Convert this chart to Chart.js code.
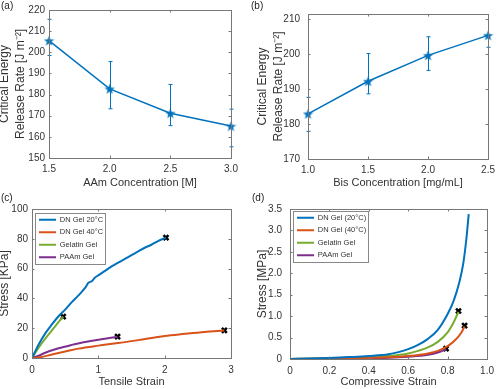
<!DOCTYPE html>
<html>
<head>
<meta charset="utf-8">
<script src="https://cdn.jsdelivr.net/npm/chart.js@4.4.1/dist/chart.umd.min.js"></script>
<style>
  body { margin: 0; background: #fff; font-family: 'Liberation Sans', Arial, sans-serif; }
  #page { position: relative; width: 500px; height: 389px; overflow: hidden; }
  .box { position: absolute; }
  .tag { position: absolute; font-size: 10px; color: #222; }
</style>
</head>
<body>
<div id="page">
  <div class="box" style="left:0;top:0;width:250px;height:195px"><canvas id="chartA"></canvas></div>
  <div class="box" style="left:250px;top:0;width:250px;height:195px"><canvas id="chartB"></canvas></div>
  <div class="box" style="left:0;top:195px;width:250px;height:194px"><canvas id="chartC"></canvas></div>
  <div class="box" style="left:250px;top:195px;width:250px;height:194px"><canvas id="chartD"></canvas></div>
  <div class="tag" style="left:1px;top:0px">(a)</div>
  <div class="tag" style="left:251px;top:0px">(b)</div>
  <div class="tag" style="left:1px;top:192px">(c)</div>
  <div class="tag" style="left:252px;top:192px">(d)</div>
</div>
<script>
// (a) energy release rate vs AAm concentration
const aamConc = [1.5, 2, 2.5, 3];
const aamRate = [205.5, 182.7, 171.2, 165.1];
const aamLow  = [198.5, 173.3, 165.3, 155.3];
const aamHigh = [215.6, 195.6, 184.8, 173.1];

// (b) energy release rate vs Bis concentration
const bisConc = [1, 1.5, 2, 2.5];
const bisRate = [182.9, 192.2, 199.6, 205.3];
const bisLow  = [177.9, 188.6, 195.3, 201.9];
const bisHigh = [187.6, 200.1, 204.9, 212.5];

// (c) tensile stress-strain [KPa]
const tenDN20X  = [0, 0.05, 0.1, 0.2, 0.3, 0.4, 0.5, 0.6, 0.7, 0.8, 0.85, 0.9, 0.95, 1.0, 1.1, 1.2, 1.3, 1.4, 1.5, 1.6, 1.7, 1.8, 1.9, 2.02];
const tenDN20Y  = [0, 4.5, 9, 16.5, 22.5, 28, 32.5, 37.5, 42, 47, 50.5, 51.5, 54, 55.5, 58.5, 61.5, 64, 66.5, 69, 71.5, 74, 76, 78.5, 80.8];
const tenDN40X  = [0, 0.1, 0.3, 0.5, 0.7, 1.0, 1.3, 1.6, 2.0, 2.3, 2.6, 2.9];
const tenDN40Y  = [0, 0.3, 2.3, 4.3, 6.3, 8.3, 10, 12, 14.8, 16.2, 17.5, 18.5];
const tenGelX   = [0, 0.1, 0.2, 0.3, 0.4, 0.47];
const tenGelY   = [0, 7, 13, 18.5, 24, 27.8];
const tenPAAmX  = [0, 0.1, 0.2, 0.4, 0.6, 0.8, 1.0, 1.29];
const tenPAAmY  = [0, 1.5, 3.5, 6.5, 8.8, 10.8, 12.3, 14.3];
const tenBreakX = [2.02, 2.9, 0.47, 1.29];
const tenBreakY = [80.8, 18.5, 27.8, 14.3];

// (d) compressive stress-strain [MPa]
const comDN20X  = [0, 0.1, 0.2, 0.3, 0.4, 0.5, 0.55, 0.6, 0.65, 0.7, 0.75, 0.8, 0.83, 0.86, 0.88, 0.895, 0.907];
const comDN20Y  = [0, 0.01, 0.025, 0.045, 0.07, 0.11, 0.16, 0.23, 0.33, 0.47, 0.68, 1.05, 1.35, 1.8, 2.25, 2.8, 3.38];
const comDN40X  = [0, 0.3, 0.5, 0.6, 0.7, 0.75, 0.8, 0.84, 0.87, 0.886];
const comDN40Y  = [0, 0.015, 0.04, 0.07, 0.13, 0.19, 0.3, 0.45, 0.62, 0.76];
const comGelX   = [0, 0.2, 0.4, 0.5, 0.6, 0.65, 0.7, 0.75, 0.8, 0.83, 0.855];
const comGelY   = [0, 0.015, 0.04, 0.07, 0.13, 0.19, 0.27, 0.4, 0.62, 0.85, 1.1];
const comPAAmX  = [0, 0.3, 0.5, 0.6, 0.7, 0.75, 0.792];
const comPAAmY  = [0, 0.01, 0.03, 0.055, 0.1, 0.15, 0.23];
const comBreakX = [0.855, 0.886, 0.792];
const comBreakY = [1.12, 0.78, 0.24];

const BLUE = '#0072BD', ORANGE = '#D95319', GREEN = '#77AC30', PURPLE = '#7E2F8E';
const TXT = '#333';
const FONT = "'Liberation Sans', Arial, sans-serif";

function pts(xs, ys) { return xs.map((x, i) => ({x: x, y: ys[i]})); }

function makeStar(size, color) {
    const c = document.createElement('canvas');
    c.width = c.height = size;
    const g = c.getContext('2d');
    g.fillStyle = color;
    g.beginPath();
    for (let i = 0; i < 10; i++) {
        const r = i % 2 ? size * 0.2 : size / 2;
        const a = -Math.PI / 2 + i * Math.PI / 5;
        g.lineTo(size / 2 + r * Math.cos(a), size / 2 + r * Math.sin(a) + 0.6);
    }
    g.closePath();
    g.fill();
    return c;
}

// matlab style box with inward ticks
const boxPlugin = {
    id: 'matBox',
    afterDatasetsDraw(chart) {
        const {ctx, chartArea: a, scales} = chart;
        ctx.save();
        ctx.strokeStyle = '#777';
        ctx.lineWidth = 1;
        ctx.strokeRect(Math.round(a.left) + 0.5, Math.round(a.top) + 0.5, Math.round(a.right - a.left), Math.round(a.bottom - a.top));
        ctx.beginPath();
        scales.x.ticks.forEach((t, i) => {
            const px = Math.round(scales.x.getPixelForTick(i)) + 0.5;
            ctx.moveTo(px, a.bottom); ctx.lineTo(px, a.bottom - 2.5);
            ctx.moveTo(px, a.top); ctx.lineTo(px, a.top + 2.5);
        });
        scales.y.ticks.forEach((t, i) => {
            const py = Math.round(scales.y.getPixelForTick(i)) + 0.5;
            ctx.moveTo(a.left, py); ctx.lineTo(a.left + 2.5, py);
            ctx.moveTo(a.right, py); ctx.lineTo(a.right - 2.5, py);
        });
        ctx.stroke();
        // legend frame
        const lg = chart.legend;
        if (lg && lg.options.display && lg.legendHitBoxes.length) {
            const hb = lg.legendHitBoxes;
            const x0 = Math.min(...hb.map(h => h.left)) - 4;
            const y0 = Math.min(...hb.map(h => h.top)) - 3;
            const x1 = Math.max(...hb.map(h => h.left + h.width)) + 2;
            const y1 = Math.max(...hb.map(h => h.top + h.height)) + 3;
            ctx.strokeStyle = '#888';
            ctx.strokeRect(Math.round(x0) + 0.5, Math.round(y0) + 0.5, Math.round(x1 - x0), Math.round(y1 - y0));
        }
        ctx.restore();
    }
};

// error bars drawn through the chart scales
const errorPlugin = {
    id: 'errBars',
    beforeDatasetsDraw(chart, args, opts) {
        if (!opts.x) return;
        const {ctx, chartArea: a, scales} = chart;
        ctx.save();
        ctx.beginPath();
        ctx.rect(a.left - 4, a.top, a.right - a.left + 8, a.bottom - a.top);
        ctx.clip();
        ctx.strokeStyle = opts.color;
        ctx.lineWidth = 1;
        ctx.beginPath();
        opts.x.forEach((xv, i) => {
            const px = Math.round(scales.x.getPixelForValue(xv)) + 0.5;
            const top = scales.y.getPixelForValue(opts.high[i]);
            const bot = scales.y.getPixelForValue(opts.low[i]);
            ctx.moveTo(px, top); ctx.lineTo(px, bot);
            ctx.moveTo(px - 2, top); ctx.lineTo(px + 2, top);
            ctx.moveTo(px - 2, bot); ctx.lineTo(px + 2, bot);
        });
        ctx.stroke();
        ctx.restore();
    }
};

// put the legend in the upper left corner of the axes
const legendPlace = {
    id: 'legendPlace',
    afterLayout(chart, args, opts) {
        const lg = chart.legend;
        if (!lg || !lg.options.display) return;
        const a = chart.chartArea;
        lg.left = a.left + opts.dx;
        lg.top = a.top + opts.dy;
        lg.right = lg.left + lg.width;
        lg.bottom = lg.top + lg.height;
    }
};

function makeChart(id, o) {
    const W = o.w, H = o.h;
    return new Chart(document.getElementById(id), {
        type: 'line',
        data: {datasets: o.datasets},
        plugins: [errorPlugin, boxPlugin, legendPlace],
        options: {
            responsive: true,
            maintainAspectRatio: false,
            animation: false,
            layout: {padding: {left: 0, top: o.area[1], right: W - o.area[2], bottom: 0}},
            plugins: {
                legend: o.legend ? {
                    display: true,
                    position: 'chartArea',
                    align: 'start',
                    labels: {
                        usePointStyle: true, pointStyle: 'line', pointStyleWidth: 17, boxHeight: 7,
                        padding: 5, color: TXT,
                        font: {family: FONT, size: 7.5},
                        filter: item => !!item.text
                    }
                } : {display: false},
                legendPlace: {dx: o.legendDx || 0, dy: o.legendDy || 0},
                tooltip: {enabled: false},
                errBars: o.err || {}
            },
            scales: {
                x: {
                    type: 'linear', min: o.x.min, max: o.x.max,
                    grid: {display: false, drawTicks: false},
                    border: {display: false},
                    ticks: {stepSize: o.x.step, includeBounds: false, color: TXT, padding: o.x.pad, maxRotation: 0, font: {family: FONT, size: 10}},
                    afterFit: s => { s.height = H - o.area[3]; },
                    title: {display: true, text: o.x.title, color: TXT, font: {family: FONT, size: 11}, padding: {top: 0, bottom: o.x.tpad}}
                },
                y: {
                    type: 'linear', min: o.y.min, max: o.y.max,
                    grid: {display: false, drawTicks: false},
                    border: {display: false},
                    ticks: {stepSize: o.y.step, includeBounds: false, color: TXT, padding: o.y.pad, font: {family: FONT, size: 10}},
                    afterFit: s => { s.width = o.area[0]; },
                    title: {display: true, text: o.y.title, color: TXT, font: {family: FONT, size: 12, lineHeight: 1.3}, padding: {top: o.y.tpad, bottom: 0}}
                }
            }
        }
    });
}

const star = makeStar(11, BLUE);

function curve(label, xs, ys, color) {
    return {label: label, data: pts(xs, ys), borderColor: color, backgroundColor: color,
            borderWidth: 2, pointRadius: 0, pointStyle: 'line', cubicInterpolationMode: 'monotone'};
}
function breaks(xs, ys) {
    return {label: '', data: pts(xs, ys), showLine: false, pointStyle: 'crossRot', clip: false,
            pointRadius: 3.5, borderColor: '#000', backgroundColor: '#000', pointBorderWidth: 2.5};
}
function starLine(xs, ys) {
    return {label: '', data: pts(xs, ys), borderColor: BLUE, backgroundColor: BLUE, clip: false,
            borderWidth: 1.5, pointStyle: star, pointRadius: 5};
}

makeChart('chartA', {
    w: 250, h: 195, area: [49, 10, 231, 158],
    datasets: [starLine(aamConc, aamRate)],
    err: {x: aamConc, low: aamLow, high: aamHigh, color: BLUE},
    x: {min: 1.5, max: 3, step: 0.5, pad: 5, title: 'AAm Concentration [M]', tpad: 5},
    y: {min: 150, max: 220, step: 10, pad: 4, title: ['Critical Energy', 'Release Rate [J m\u207B\u00B2]'], tpad: -3}
});

makeChart('chartB', {
    w: 250, h: 195, area: [58, 10, 240, 159],
    datasets: [starLine(bisConc, bisRate)],
    err: {x: bisConc, low: bisLow, high: bisHigh, color: BLUE},
    x: {min: 1, max: 2.5, step: 0.5, pad: 5, title: 'Bis Concentration [mg/mL]', tpad: 5},
    y: {min: 170, max: 211.4, step: 10, pad: 8, title: ['Critical Energy', 'Release Rate [J m\u207B\u00B2]'], tpad: 5}
});

makeChart('chartC', {
    w: 250, h: 194, area: [32, 14, 231, 163], legend: true, legendDx: 2, legendDy: 2,
    datasets: [
        curve('DN Gel 20\u00B0C', tenDN20X, tenDN20Y, BLUE),
        curve('DN Gel 40\u00B0C', tenDN40X, tenDN40Y, ORANGE),
        curve('Gelatin Gel', tenGelX, tenGelY, GREEN),
        curve('PAAm Gel', tenPAAmX, tenPAAmY, PURPLE),
        breaks(tenBreakX, tenBreakY)
    ],
    x: {min: 0, max: 3, step: 1, pad: 6, title: 'Tensile Strain', tpad: 0},
    y: {min: 0, max: 100, step: 20, pad: 4, title: 'Stress [KPa]', tpad: -3}
});

makeChart('chartD', {
    w: 250, h: 194, area: [40, 14, 239, 164], legend: true, legendDx: 2, legendDy: 0,
    datasets: [
        curve('DN Gel (20\u00B0C)', comDN20X, comDN20Y, BLUE),
        curve('DN Gel (40\u00B0C)', comDN40X, comDN40Y, ORANGE),
        curve('Gelatin Gel', comGelX, comGelY, GREEN),
        curve('PAAm Gel', comPAAmX, comPAAmY, PURPLE),
        breaks(comBreakX, comBreakY)
    ],
    x: {min: 0, max: 1, step: 0.2, pad: 6, title: 'Compressive Strain', tpad: 0},
    y: {min: 0, max: 3.5, step: 0.5, pad: 8, title: 'Stress [MPa]', tpad: 5}
});
</script>
</body>
</html>
